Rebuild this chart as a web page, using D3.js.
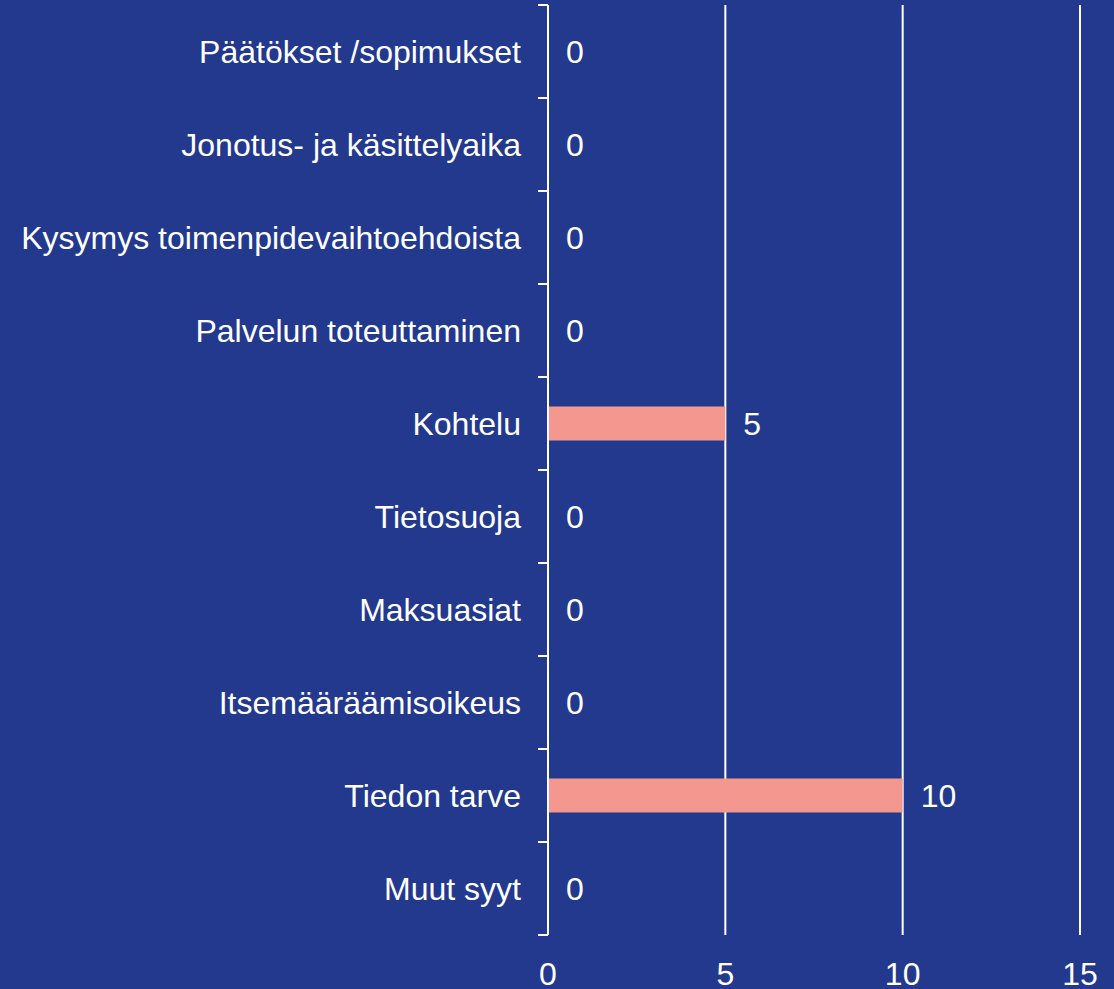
<!DOCTYPE html>
<html>
<head>
<meta charset="utf-8">
<script src="https://d3js.org/d3.v7.min.js"></script>
<style>
  body { margin: 0; background: #22398e; }
  svg { display: block; }
</style>
</head>
<body>
<script>
// categories top to bottom, and their counts
var categories = ["Päätökset /sopimukset", "Jonotus- ja käsittelyaika", "Kysymys toimenpidevaihtoehdoista",
  "Palvelun toteuttaminen", "Kohtelu", "Tietosuoja", "Maksuasiat", "Itsemääräämisoikeus",
  "Tiedon tarve", "Muut syyt"];
var counts = [0, 0, 0, 0, 5, 0, 0, 0, 10, 0];
var xTicks = [0, 5, 10, 15];

var width = 1114, height = 989;
var font = "32px 'Liberation Sans', Arial, sans-serif";
var svg = d3.select("body").append("svg").attr("width", width).attr("height", height);
svg.append("rect").attr("width", width).attr("height", height).attr("fill", "#22398e");

var x = d3.scaleLinear().domain([0, 15]).range([548, 1080]);
var y = d3.scaleBand().domain(categories).range([5, 935]);

// gridlines
svg.selectAll(".grid").data(xTicks.slice(1)).enter()
  .append("line")
  .attr("x1", function(d) { return x(d); }).attr("x2", function(d) { return x(d); })
  .attr("y1", 5).attr("y2", 935)
  .attr("stroke", "#fff").attr("stroke-width", 2);

// bars
var data = categories.map(function(c, i) { return {cat: c, val: counts[i]}; });
svg.selectAll(".bar").data(data).enter()
  .append("rect")
  .attr("x", x(0))
  .attr("y", function(d) { return y(d.cat) + y.bandwidth() / 2 - 17; })
  .attr("width", function(d) { return x(d.val) - x(0); })
  .attr("height", 34)
  .attr("fill", "#f4978e");

// value labels
svg.selectAll(".val").data(data).enter()
  .append("text")
  .attr("x", function(d) { return x(d.val) + 18; })
  .attr("y", function(d) { return y(d.cat) + y.bandwidth() / 2; })
  .attr("dy", "0.36em")
  .attr("fill", "#fff")
  .style("font", font)
  .text(function(d) { return d.val; });

// category axis
var yAxis = d3.axisLeft(y).tickSize(0).tickPadding(27);
var gy = svg.append("g").attr("transform", "translate(" + x(0) + ",0)").call(yAxis);
gy.select(".domain").remove();
gy.selectAll("text").attr("fill", "#fff")
  .style("font", font).attr("dy", "0.36em");

svg.append("line").attr("x1", x(0)).attr("x2", x(0)).attr("y1", 5).attr("y2", 935)
  .attr("stroke", "#fff").attr("stroke-width", 2);
var bounds = [5].concat(categories.map(function(c) { return y(c) + y.bandwidth(); }));
svg.selectAll(".cattick").data(bounds).enter()
  .append("line")
  .attr("x1", x(0) - 10).attr("x2", x(0))
  .attr("y1", function(d) { return d; }).attr("y2", function(d) { return d; })
  .attr("stroke", "#fff").attr("stroke-width", 2);

// x tick labels
svg.selectAll(".xt").data(xTicks).enter()
  .append("text")
  .attr("x", function(d) { return x(d); })
  .attr("y", 985)
  .attr("text-anchor", "middle")
  .attr("fill", "#fff")
  .style("font", font)
  .text(function(d) { return d; });
</script>
</body>
</html>
